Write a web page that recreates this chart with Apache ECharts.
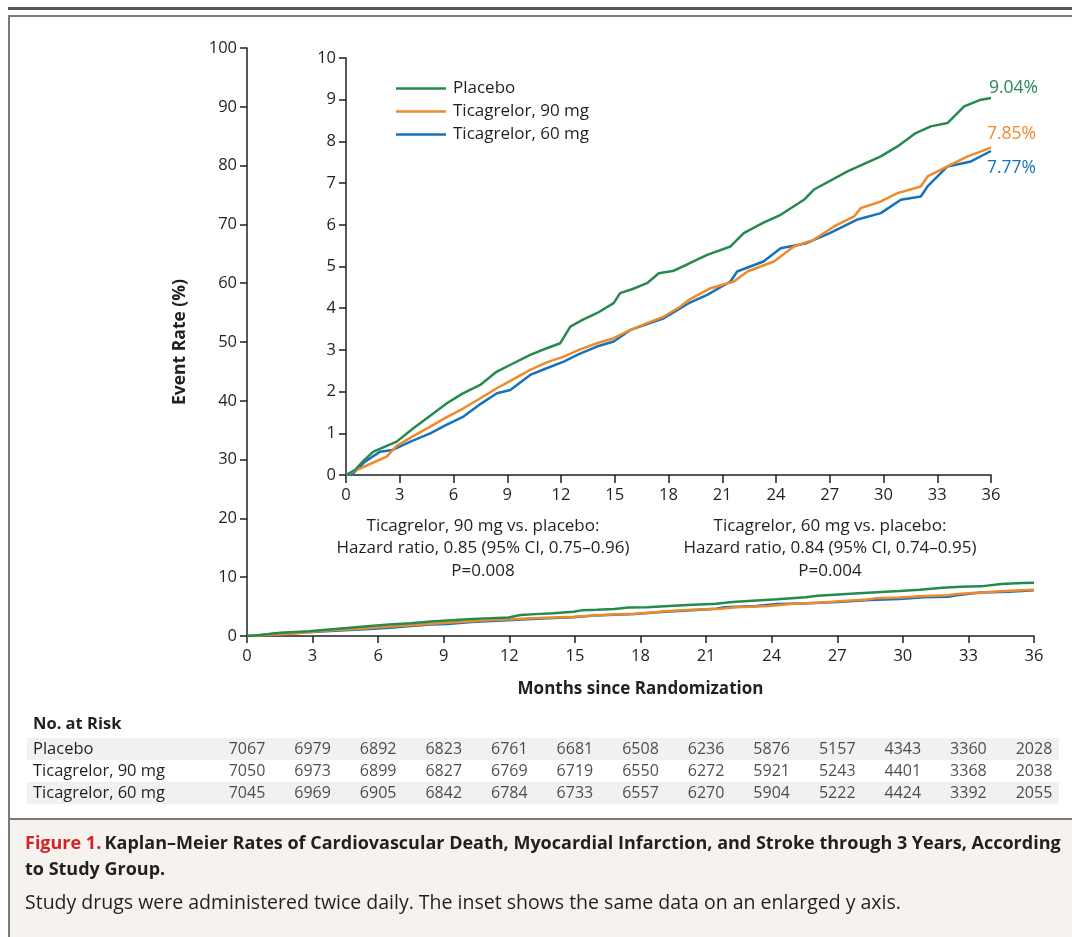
<!DOCTYPE html>
<html>
<head>
<meta charset="utf-8">
<script src="https://cdn.jsdelivr.net/npm/echarts@6/dist/echarts.min.js"></script>
<style>
html,body{margin:0;padding:0;background:#fff;}
#chart{width:1072px;height:937px;}
</style>
</head>
<body>
<div id="chart"></div>
<script>
// ---- data ----
var seriesNames = ['Placebo', 'Ticagrelor, 90 mg', 'Ticagrelor, 60 mg'];
var placebo = [[0,0],[0.5,0.12],[1,0.35],[1.53,0.56],[2.83,0.8],[3.76,1.12],[4.7,1.42],[5.63,1.72],[6.5,1.95],[7.49,2.16],[8.42,2.48],[9.35,2.68],[10.28,2.88],[11.2,3.04],[11.96,3.16],[12.52,3.56],[13.2,3.72],[14.0,3.88],[14.94,4.12],[15.3,4.36],[16.0,4.46],[16.8,4.6],[17.46,4.84],[18.3,4.9],[19.1,5.06],[20.16,5.28],[21.46,5.48],[22.2,5.8],[23.3,6.05],[24.26,6.24],[25.56,6.6],[26.1,6.84],[27.99,7.28],[29.85,7.64],[30.78,7.88],[31.8,8.2],[32.64,8.36],[33.57,8.44],[34.5,8.84],[35.44,9.0],[36,9.04]];
var ticag90 = [[0,0],[0.5,0.1],[1.53,0.3],[2.27,0.44],[2.83,0.7],[3.7,0.92],[4.7,1.16],[5.6,1.38],[6.56,1.6],[7.5,1.84],[8.42,2.08],[9.35,2.3],[10.28,2.52],[11.2,2.7],[12.15,2.84],[13.0,3.0],[14.0,3.16],[14.94,3.28],[15.88,3.48],[16.8,3.64],[17.74,3.8],[18.67,4.04],[19.13,4.2],[20.35,4.48],[21.65,4.64],[22.4,4.88],[23.88,5.12],[25.0,5.48],[26.1,5.64],[27.24,5.96],[28.36,6.2],[28.73,6.4],[29.85,6.56],[30.78,6.76],[32.08,6.92],[32.46,7.16],[33.57,7.4],[34.7,7.64],[36,7.85]];
var ticag60 = [[0,0],[0.3,0],[1,0.3],[1.9,0.56],[2.6,0.6],[3.6,0.8],[4.7,1.0],[5.6,1.2],[6.56,1.4],[7.5,1.7],[8.42,1.96],[9.17,2.04],[10.28,2.4],[11.2,2.56],[12.15,2.72],[13.0,2.9],[14.0,3.08],[14.94,3.2],[15.88,3.48],[16.8,3.62],[17.74,3.76],[18.67,4.0],[19.13,4.12],[20.16,4.32],[21.46,4.64],[21.83,4.88],[23.3,5.12],[24.26,5.44],[25.7,5.56],[27.0,5.8],[28.5,6.12],[29.85,6.28],[30.97,6.6],[32.08,6.68],[32.46,6.92],[33.57,7.4],[34.88,7.52],[36,7.77]];
var riskMonths = [0,3,6,9,12,15,18,21,24,27,30,33,36];
var riskPlacebo = [7067,6979,6892,6823,6761,6681,6508,6236,5876,5157,4343,3360,2028];
var risk90 = [7050,6973,6899,6827,6769,6719,6550,6272,5921,5243,4401,3368,2038];
var risk60 = [7045,6969,6905,6842,6784,6733,6557,6270,5904,5222,4424,3392,2055];
var hrTexts = [
  ['Ticagrelor, 90 mg vs. placebo:', 'Hazard ratio, 0.85 (95% CI, 0.75\u20130.96)', 'P=0.008'],
  ['Ticagrelor, 60 mg vs. placebo:', 'Hazard ratio, 0.84 (95% CI, 0.74\u20130.95)', 'P=0.004']
];
var captionTitle = 'Kaplan\u2013Meier Rates of Cardiovascular Death, Myocardial Infarction, and Stroke through 3 Years, According';
var captionTitle2 = 'to Study Group.';
var captionBody = 'Study drugs were administered twice daily. The inset shows the same data on an enlarged y axis.';

// ---- styles ----
var FONT = '"Open Sans"';
var INK = '#231f20';
var colors = ['#258a4e', '#ee8a2b', '#1673b9'];
var curves = [placebo, ticag90, ticag60];
var endOffsets = [[-10,-10],[-12,-14],[-12,17]];

var chart = echarts.init(document.getElementById('chart'), null, {renderer:'canvas'});

function axisCommon(len) {
  return {
    axisLine:{show:true, onZero:false, lineStyle:{color:INK, width:1.5}},
    axisTick:{show:true, length:len, lineStyle:{color:INK, width:1.5}},
    axisLabel:{color:INK, fontFamily:FONT, fontSize:16.5},
    splitLine:{show:false}
  };
}

var series = [];
curves.forEach(function(d, i){
  series.push({
    name: seriesNames[i], type:'line', xAxisIndex:0, yAxisIndex:0,
    data: d, symbol:'none', lineStyle:{color:colors[i], width:2.5}, itemStyle:{color:colors[i]},
    z: 3 - i + 2, animation:false
  });
});
curves.forEach(function(d, i){
  series.push({
    name: seriesNames[i], type:'line', xAxisIndex:1, yAxisIndex:1,
    data: d, symbol:'none', lineStyle:{color:colors[i], width:2.5}, itemStyle:{color:colors[i]},
    z: 3 - i + 2, animation:false,
    endLabel:{show:true, color:colors[i], fontFamily:FONT, fontSize:17.5, offset:endOffsets[i],
      formatter:function(p){ return p.value[1].toFixed(2) + '%'; }}
  });
});
[riskPlacebo, risk90, risk60].forEach(function(arr, r){
  series.push({
    type:'scatter', xAxisIndex:2, yAxisIndex:2, symbolSize:0, animation:false,
    data: arr.map(function(n, k){ return [riskMonths[k], seriesNames[r], n]; }),
    label:{show:true, position:'inside', color:INK, fontFamily:FONT, fontSize:16,
      formatter:function(p){ return String(p.value[2]); }}
  });
});

var graphics = [
  {type:'rect', shape:{x:8, y:7, width:1064, height:3}, style:{fill:'#58595b'}, z:-10},
  {type:'rect', shape:{x:8, y:15, width:1064, height:2}, style:{fill:'#7a7a7c'}, z:-10},
  {type:'rect', shape:{x:8, y:15, width:2, height:922}, style:{fill:'#7a7a7c'}, z:-10},
  {type:'rect', shape:{x:10, y:820, width:1062, height:117}, style:{fill:'#f6f3ee'}, z:-10},
  {type:'rect', shape:{x:8, y:818, width:1064, height:2}, style:{fill:'#7a7a7c'}, z:-10},
  {type:'rect', shape:{x:27, y:738, width:1032, height:22}, style:{fill:'#f1f1f1'}, z:-10},
  {type:'rect', shape:{x:27, y:782, width:1032, height:22}, style:{fill:'#f1f1f1'}, z:-10},
  {type:'text', x:33, y:724, style:{text:'No. at Risk', fill:INK, font:'bold 16.5px ' + FONT, textVerticalAlign:'middle'}},
  {type:'text', x:25, y:844, style:{
    rich:{r:{fill:'#d2232a', font:'bold 18px ' + FONT}, b:{fill:INK, font:'bold 18px ' + FONT}},
    text:'{r|Figure 1.} {b|' + captionTitle + '}', textVerticalAlign:'middle'}},
  {type:'text', x:25, y:870, style:{text:captionTitle2, fill:INK, font:'bold 18px ' + FONT, textVerticalAlign:'middle'}},
  {type:'text', x:25, y:903, style:{text:captionBody, fill:INK, font:'19.5px ' + FONT, textVerticalAlign:'middle'}}
];
var hrCenters = [483, 830];
hrTexts.forEach(function(lines, j){
  lines.forEach(function(t, k){
    graphics.push({type:'text', x:hrCenters[j], y:526 + k*22.5,
      style:{text:t, fill:INK, font:'17px ' + FONT, textAlign:'center', textVerticalAlign:'middle'}});
  });
});

var x0 = axisCommon(7), x1 = axisCommon(8), y0 = axisCommon(7), y1 = axisCommon(7);
var option = {
  animation:false,
  textStyle:{fontFamily:FONT},
  grid:[
    {left:247, top:48, width:787, height:588},
    {left:346, top:58, width:645, height:417},
    {left:247, top:738, width:787, height:66}
  ],
  legend:{
    left:396, top:80, padding:0, orient:'vertical', itemWidth:50, itemHeight:14, itemGap:6,
    data:seriesNames, icon:'path://M0,6L50,6L50,8.5L0,8.5Z',
    textStyle:{color:INK, fontFamily:FONT, fontSize:17, padding:[0,0,0,2]},
    selectedMode:false
  },
  xAxis:[
    Object.assign(x0, {type:'value', gridIndex:0, min:0, max:36, interval:3,
      name:'Months since Randomization', nameLocation:'middle', nameGap:45,
      nameTextStyle:{color:INK, fontFamily:FONT, fontSize:17, fontWeight:'bold'},
      axisLabel:Object.assign(x0.axisLabel, {margin:12})}),
    Object.assign(x1, {type:'value', gridIndex:1, min:0, max:36, interval:3,
      axisLabel:Object.assign(x1.axisLabel, {margin:12})}),
    {type:'value', gridIndex:2, min:0, max:36, show:false}
  ],
  yAxis:[
    Object.assign(y0, {type:'value', gridIndex:0, min:0, max:100, interval:10,
      name:'Event Rate (%)', nameLocation:'middle', nameGap:58,
      nameTextStyle:{color:INK, fontFamily:FONT, fontSize:17.5, fontWeight:'bold'},
      axisLabel:Object.assign(y0.axisLabel, {margin:10})}),
    Object.assign(y1, {type:'value', gridIndex:1, min:0, max:10, interval:1,
      axisLabel:Object.assign(y1.axisLabel, {margin:10})}),
    {type:'category', gridIndex:2, data:seriesNames, inverse:true,
      axisLine:{show:false}, axisTick:{show:false}, splitLine:{show:false},
      axisLabel:{show:true, interval:0, hideOverlap:false, align:'left', margin:214, color:INK, fontFamily:FONT, fontSize:16.5}}
  ],
  series:series,
  graphic:graphics
};
chart.setOption(option);
</script>
</body>
</html>
